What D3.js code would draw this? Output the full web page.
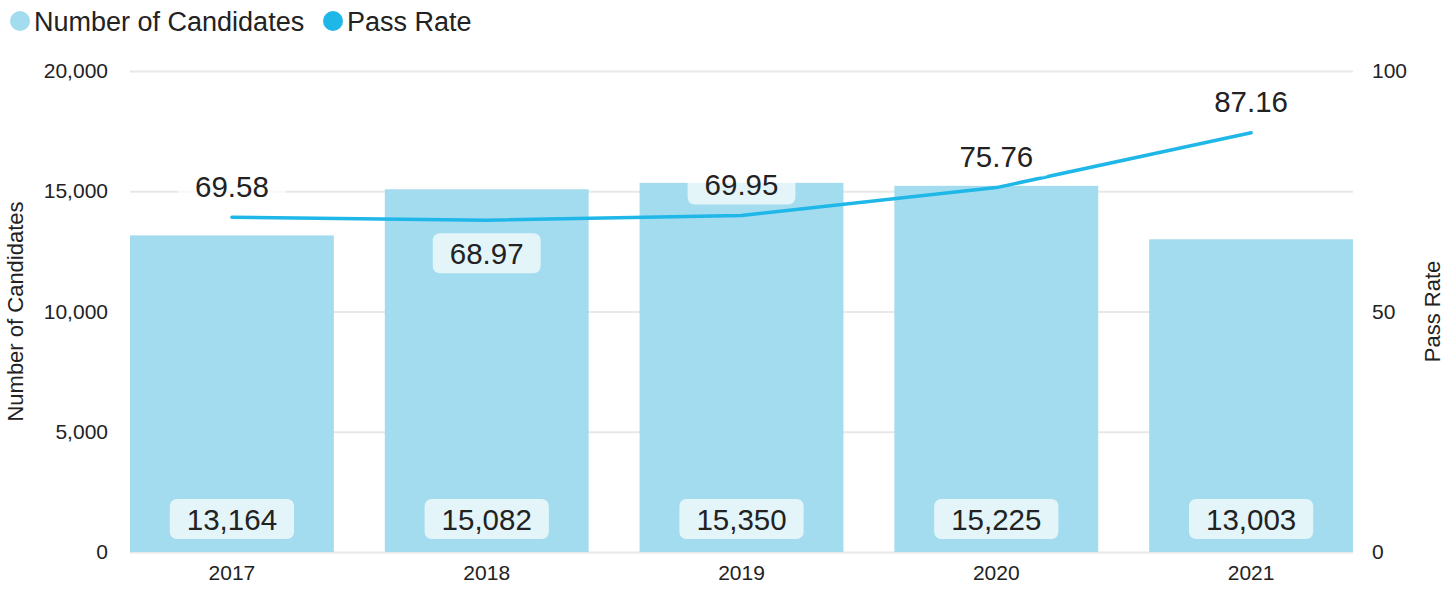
<!DOCTYPE html>
<html>
<head>
<meta charset="utf-8">
<script src="https://cdn.jsdelivr.net/npm/d3@7"></script>
<style>
  body { margin: 0; background: #fff; }
  svg { font-family: "Liberation Sans", Arial, sans-serif; }
  .grid line { stroke: #e8e8e8; stroke-width: 2; }
  .grid path { display: none; }
  .axis path, .axis line { display: none; }
  .axis text { font-size: 21px; fill: #222; font-family: "Liberation Sans", Arial, sans-serif; }
</style>
</head>
<body>
<div id="chart"></div>
<script>
var years = ["2017", "2018", "2019", "2020", "2021"];
var candidates = [13164, 15082, 15350, 15225, 13003];
var passRate = [69.58, 68.97, 69.95, 75.76, 87.16];
var leftTicks = [0, 5000, 10000, 15000, 20000];
var rightTicks = [0, 50, 100];

var barColor = "#a3dcee",
    lineColor = "#1fb7e8";

var margin = {top: 71, right: 103, bottom: 38, left: 130},
    width = 1456 - margin.left - margin.right,
    height = 590 - margin.top - margin.bottom;

var svg = d3.select("#chart").append("svg")
    .attr("width", 1456)
    .attr("height", 590);

var g = svg.append("g")
    .attr("transform", "translate(" + margin.left + "," + margin.top + ")");

var x = d3.scaleBand().domain(years).range([0, width]).paddingInner(0.2).paddingOuter(0);
var y = d3.scaleLinear().domain([0, 20000]).range([height, 0]);
var y2 = d3.scaleLinear().domain([0, 100]).range([height, 0]);

// gridlines
g.append("g")
  .attr("class", "grid")
  .call(d3.axisLeft(y).tickValues(leftTicks).tickSize(-width).tickFormat(""));

// bars
g.selectAll(".bar")
  .data(candidates)
  .enter().append("rect")
    .attr("class", "bar")
    .attr("x", function(d, i) { return x(years[i]); })
    .attr("y", function(d) { return y(d); })
    .attr("width", x.bandwidth())
    .attr("height", function(d) { return height - y(d); })
    .attr("fill", barColor);

// axes
g.append("g")
  .attr("class", "axis")
  .call(d3.axisLeft(y).tickValues(leftTicks).tickFormat(d3.format(",")).tickSize(0).tickPadding(22));

g.append("g")
  .attr("class", "axis")
  .attr("transform", "translate(" + width + ",0)")
  .call(d3.axisRight(y2).tickValues(rightTicks).tickSize(0).tickPadding(19));

g.append("g")
  .attr("class", "axis")
  .attr("transform", "translate(0," + height + ")")
  .call(d3.axisBottom(x).tickSize(0).tickPadding(13));

// axis titles
svg.append("text")
  .attr("transform", "translate(23," + (margin.top + height / 2) + ") rotate(-90)")
  .attr("text-anchor", "middle")
  .style("font-size", "22px")
  .attr("fill", "#222")
  .text("Number of Candidates");

svg.append("text")
  .attr("transform", "translate(1440," + (margin.top + height / 2) + ") rotate(-90)")
  .attr("text-anchor", "middle")
  .style("font-size", "22px")
  .attr("fill", "#222")
  .text("Pass Rate");

// pass rate line
var line = d3.line()
  .x(function(d, i) { return x(years[i]) + x.bandwidth() / 2; })
  .y(function(d) { return y2(d); });

g.append("path")
  .datum(passRate)
  .attr("d", line)
  .attr("fill", "none")
  .attr("stroke", lineColor)
  .attr("stroke-width", 3.5)
  .attr("stroke-linecap", "round")
  .attr("stroke-linejoin", "round");

// label helper: text with a rounded translucent box behind it
function addLabel(cx, cy, str) {
  var lg = g.append("g").attr("transform", "translate(" + cx + "," + cy + ")");
  var rect = lg.append("rect").attr("fill", "rgba(255,255,255,0.7)").attr("rx", 7);
  var t = lg.append("text")
    .attr("text-anchor", "middle")
    .attr("dy", "0.36em")
    .style("font-size", "29.5px")
    .attr("fill", "#222")
    .text(str);
  var w = t.node().getComputedTextLength();
  rect.attr("x", -w / 2 - 17).attr("y", -20).attr("width", w + 34).attr("height", 40);
}

// bar value labels
candidates.forEach(function(d, i) {
  addLabel(x(years[i]) + x.bandwidth() / 2, height - 33, d3.format(",")(d));
});

// line value labels, dropped below when lower than the previous point
passRate.forEach(function(d, i) {
  var below = i > 0 && d < passRate[i - 1];
  addLabel(x(years[i]) + x.bandwidth() / 2, y2(d) + (below ? 33 : -31), d3.format(".2f")(d));
});

// legend
var legend = svg.append("g");
var items = [{name: "Number of Candidates", color: barColor, x: 20},
             {name: "Pass Rate", color: lineColor, x: 333}];
items.forEach(function(it) {
  legend.append("circle").attr("cx", it.x).attr("cy", 21).attr("r", 10).attr("fill", it.color);
  legend.append("text")
    .attr("x", it.x + 14).attr("y", 21).attr("dy", "0.36em")
    .style("font-size", "27px").attr("fill", "#222")
    .text(it.name);
});
</script>
</body>
</html>
